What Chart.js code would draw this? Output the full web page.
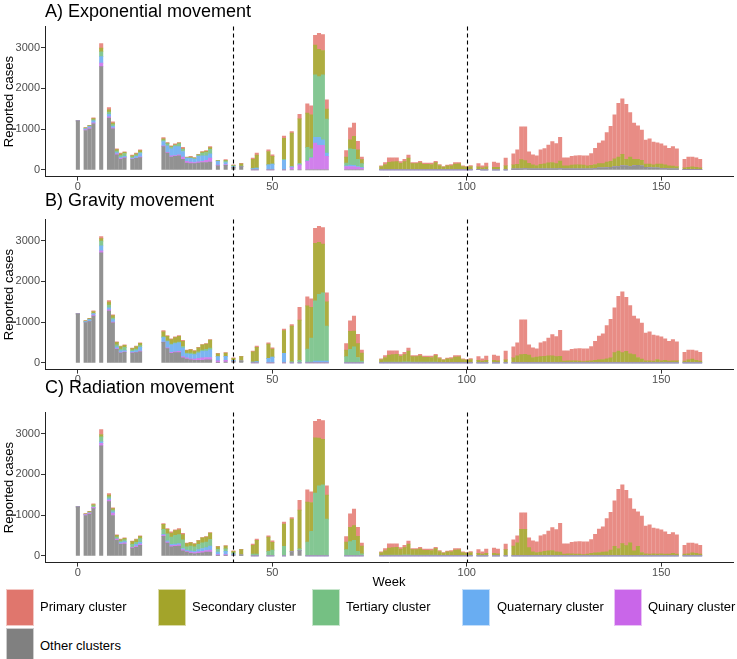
<!DOCTYPE html>
<html>
<head>
<meta charset="utf-8">
<script src="https://cdn.jsdelivr.net/npm/chart.js@4.4.1/dist/chart.umd.min.js"></script>
<style>
html,body{margin:0;padding:0;background:#fff;}
body{width:737px;height:659px;position:relative;overflow:hidden;font-family:"Liberation Sans",Arial,sans-serif;}
canvas.panel{position:absolute;left:0;}
.ptitle{position:absolute;left:45px;font-size:18px;line-height:18px;color:#000;white-space:nowrap;}
.xlab{position:absolute;left:339px;width:100px;text-align:center;top:575px;font-size:13px;line-height:14px;color:#000;}
.sw{position:absolute;width:28px;height:37px;box-sizing:border-box;border:1px solid rgba(255,255,255,0.6);}
.lt{position:absolute;font-size:13px;line-height:14px;color:#000;white-space:nowrap;}
</style>
</head>
<body>
<canvas id="cA" class="panel" width="737" height="200" style="top:0px"></canvas>
<canvas id="cB" class="panel" width="737" height="200" style="top:193px"></canvas>
<canvas id="cC" class="panel" width="737" height="200" style="top:386px"></canvas>
<div class="ptitle" style="top:1.7px">A) Exponential movement</div>
<div class="ptitle" style="top:190.7px">B) Gravity movement</div>
<div class="ptitle" style="top:377.9px">C) Radiation movement</div>
<div class="xlab">Week</div>
<div id="legend"></div>
<script>
// ---- Data ----
const weeks = [0,2,3,4,6,8,9,10,11,12,14,15,16,
  22,23,24,25,26,27,28,29,30,31,32,33,34,
  36,38,40,42,
  45,46,49,50,53,55,57,59,60,61,62,63,64,
  69,70,71,72,73,
  78,79,80,81,82,83,84,85,86,87,88,89,90,91,92,93,94,95,96,97,98,99,100,101,
  103,104,105,107,108,110,
  112,113,114,115,116,117,118,119,120,121,122,123,124,125,126,127,128,129,130,131,132,133,134,135,136,137,138,139,140,141,142,143,144,145,146,147,148,149,150,151,152,153,154,
  156,157,158,159,160];

const xTicks = [0, 50, 100, 150];
const yTicks = [0, 1000, 2000, 3000];
const dashedWeeks = [40, 100];

const seriesNames = ['Primary cluster','Secondary cluster','Tertiary cluster','Quaternary cluster','Quinary cluster','Other clusters'];
const barColors = ['#E88C85','#AEAD40','#84C793','#7AB5F2','#D180EC','#929292'];
const keyColors = ['#E0766D','#A3A42A','#75C083','#69ADF2','#C966E9','#808080'];

// ---- A) Exponential movement ----
const expOther = [1200,965,1000,1130,2535,1270,1005,370,260,290,260,280,300,
  570,410,310,330,345,260,165,150,150,165,180,180,190,
  100,110,60,80,
  0,0,0,0,0,0,0,0,0,0,0,0,0,
  0,0,0,0,0,
  0,0,0,0,0,0, 0,0,0,0,0,0, 0,0,0,0,0,0, 0,0,0,0,0,0,
  10,0,0,0,0,0,
  15,15,20,25,20,15,15,15,15,20,20,20,25,15,15,15,15,15,15,20,20,30,40,40,50,60,70,80,100,90,80,100,110,90,60,50,40,40,30,30,20,20,20,
  10,10,10,10,10];
const expQuinary = [0,20,30,25,85,30,25,20,20,10,10,10,20,
  20,20,35,20,20,50,40,40,30,30,30,50,95,
  15,20,0,0,
  0,0,0,0,0,55,120,205,285,655,600,600,330,
  80,80,80,60,40,
  0,0,0,0,0,0, 0,0,0,0,0,0, 0,0,0,0,0,0, 0,0,0,0,0,0,
  0,0,0,0,0,0,
  0,0,0,0,0,0,0,0,0,0, 0,0,0,0,0,0,0,0,0,0, 0,0,0,0,0,0,0,0,0,0, 0,0,0,0,0,0,0,0,0,0, 0,0,0,
  0,0,0,0,0];
const expQuaternary = [0,20,30,45,160,60,40,30,30,30,20,40,80,
  105,160,170,220,205,140,80,90,80,135,135,115,105,
  90,50,20,0,
  30,40,120,140,230,15,0,15,15,140,195,135,80,
  20,35,30,20,20,
  0,0,0,0,0,0, 0,0,0,0,0,0, 0,0,0,0,0,0, 0,0,0,0,0,0,
  0,0,0,0,0,0,
  0,0,0,0,0,0,0,0,0,0, 0,0,0,0,0,0,0,0,0,0, 0,0,0,0,0,0,0,0,0,0, 0,0,0,0,0,0,0,0,0,0, 0,0,0,
  0,0,0,0,0];
const expTertiary = [0,15,15,30,120,60,40,40,40,70,30,40,30,
  35,50,35,30,70,50,10,15,20,30,65,80,115,
  15,35,20,10,
  0,0,0,0,30,10,40,330,215,1535,1495,1595,835,
  65,400,395,180,90,
  5,10,10,10,10,10,10,10,10,10,10,5,5,5,5,5,5,5,5,5,5,5,5,5,
  0,0,0,0,0,0,
  0,0,0,0,0,0,0,0,0,0, 0,0,0,0,0,0,0,0,0,0, 0,0,0,0,0,0,0,0,0,0, 0,0,0,0,0,0,0,0,0,0, 0,0,0,
  0,0,0,0,0];
const expSecondary = [0,10,10,25,90,50,40,35,40,30,25,25,40,
  30,15,20,15,15,15,5,15,10,10,25,30,40,
  5,20,10,55,
  230,320,330,190,515,820,1090,840,835,735,670,600,245,
  145,220,315,230,100,
  75,120,175,185,190,150,190,280,140,140,160,130,130,125,170,100,60,90,95,135,140,75,60,75,
  60,50,70,60,60,100,
  110,120,230,200,140,110,90,120,130,150,160,130,190,80,80,100,110,110,100,80,90,100,110,110,140,150,200,230,280,170,230,160,150,140,80,90,80,100,110,90,80,70,60,
  40,50,60,50,40];
const expPrimary = [0,10,10,20,110,60,30,20,20,10,15,15,20,
  30,15,20,25,15,35,10,20,10,10,15,15,25,
  5,15,10,15,
  30,50,40,40,55,40,115,230,220,235,390,390,230,
  160,295,325,210,60,
  20,50,110,100,95,40,60,70,30,30,40,30,30,35,35,25,15,20,30,40,35,20,15,25,
  80,50,95,130,105,190,
  265,355,805,830,280,245,240,355,375,435,515,495,580,200,200,215,220,225,230,245,290,400,505,560,725,860,1080,1325,1360,1350,1095,885,820,745,590,620,560,520,500,470,425,480,435,
  210,250,240,235,210];

// ---- B) Gravity movement ----
const gravOther = [1200,990,1010,1150,2700,1270,980,330,240,260,240,250,270,
  500,350,230,250,250,120,90,70,60,60,60,70,70,
  10,20,30,40,
  0,0,0,0,0,0,0,0,0,0,0,0,0,
  0,0,0,0,0,
  0,0,0,0,0,0, 0,0,0,0,0,0, 0,0,0,0,0,0, 0,0,0,0,0,0,
  0,0,0,0,0,0,
  0,0,0,0,0,0,0,0,0,0, 0,0,0,0,0,0,0,0,0,0, 0,0,0,0,0,0,0,0,0,0, 0,0,0,0,0,0,0,0,0,0, 0,0,0,
  0,0,0,0,0];
const gravQuinary = [0,0,0,20,50,30,20,20,10,10,10,10,20,
  10,20,30,20,30,30,30,30,30,50,60,60,60,
  40,40,0,0,
  0,0,0,0,0,0,0,0,0,0,0,0,0,
  0,0,0,0,0,
  0,0,0,0,0,0, 0,0,0,0,0,0, 0,0,0,0,0,0, 0,0,0,0,0,0,
  0,0,0,0,0,0,
  0,0,0,0,0,0,0,0,0,0, 0,0,0,0,0,0,0,0,0,0, 0,0,0,0,0,0,0,0,0,0, 0,0,0,0,0,0,0,0,0,0, 0,0,0,
  0,0,0,0,0];
const gravQuaternary = [0,20,50,40,120,50,60,40,50,30,30,40,90,
  110,150,180,200,210,220,100,110,110,130,160,160,190,
  100,100,30,0,
  20,30,110,140,230,0,0,15,15,40,40,40,40,
  0,0,0,0,0,
  0,0,0,0,0,0, 0,0,0,0,0,0, 0,0,0,0,0,0, 0,0,0,0,0,0,
  0,0,0,0,0,0,
  0,0,0,0,0,0,0,0,0,0, 0,0,0,0,0,0,0,0,0,0, 0,0,0,0,0,0,0,0,0,0, 0,0,0,0,0,0,0,0,0,0, 0,0,0,
  0,0,0,0,0];
const gravTertiary = [0,0,0,0,120,70,40,50,40,80,30,40,40,
  20,20,20,20,20,30,20,30,20,30,30,40,40,
  0,0,0,0,
  0,0,0,0,0,30,60,320,595,1485,1640,1680,860,
  150,330,390,130,40,
  10,15,20,20,20,20,25,25,20,20,20,15,15,15,15,10,10,10,10,10,10,10,5,5,
  0,0,0,0,0,0,
  0,0,0,0,0,0,0,0,0,0, 0,0,0,0,0,0,0,0,0,0, 0,0,0,0,0,0,0,0,0,0, 0,0,0,0,0,0,0,0,0,0, 0,0,0,
  0,0,0,0,0];
const gravSecondary = [0,20,25,50,60,70,60,60,60,50,40,60,60,
  120,110,110,130,140,130,60,80,70,100,130,130,200,
  70,80,50,110,
  250,350,350,200,560,870,990,1065,750,1410,1280,1193,600,
  160,440,390,340,200,
  70,115,170,180,185,140,175,265,130,130,150,120,120,115,160,95,55,85,90,130,135,70,60,75,
  60,40,60,60,50,70,
  120,170,200,210,190,130,140,150,160,170,170,150,160,40,50,50,50,40,30,40,50,60,70,80,100,120,250,290,250,280,220,200,130,90,50,50,40,80,50,60,40,50,50,
  40,70,90,60,40];
const gravPrimary = [0,10,10,15,50,40,20,15,10,10,10,10,10,
  30,20,20,20,20,20,10,10,10,10,10,10,10,
  10,10,10,10,
  20,30,30,30,40,40,315,220,210,365,390,407,220,
  160,260,365,230,70,
  20,50,105,95,90,40,60,70,30,30,40,30,30,35,35,25,15,20,30,40,35,20,15,25,
  90,60,105,130,115,220,
  270,320,855,845,250,240,205,340,360,435,525,495,635,255,245,280,295,310,315,305,350,470,585,630,815,950,1100,1345,1490,1330,1185,945,950,885,680,710,640,580,590,530,485,520,465,
  220,240,220,235,220];

// ---- C) Radiation movement ----
const radOther = [1200,990,1020,1160,2700,1330,990,380,280,290,190,210,260,
  480,310,220,230,240,120,90,60,50,60,70,90,90,
  10,10,20,20,
  0,0,0,0,0,100,130,0,0,0,0,0,0,
  0,0,0,0,0,
  0,0,0,0,0,0, 0,0,0,0,0,0, 0,0,0,0,0,0, 0,0,0,0,0,0,
  0,0,0,0,0,0,
  0,0,0,0,0,0,0,0,0,0, 0,0,0,0,0,0,0,0,0,0, 0,0,0,0,0,0,0,0,0,0, 0,0,0,0,0,0,0,0,0,0, 0,0,0,
  0,0,0,0,0];
const radQuinary = [0,20,30,30,60,40,60,30,20,30,20,30,30,
  30,30,30,30,30,30,20,30,30,40,40,40,50,
  20,20,0,0,
  0,0,0,0,0,0,0,0,0,0,0,0,0,
  0,0,0,0,0,
  0,0,0,0,0,0, 0,0,0,0,0,0, 0,0,0,0,0,0, 0,0,0,0,0,0,
  0,0,0,0,0,0,
  0,0,0,0,0,0,0,0,0,0, 0,0,0,0,0,0,0,0,0,0, 0,0,0,0,0,0,0,0,0,0, 0,0,0,0,0,0,0,0,0,0, 0,0,0,
  0,0,0,0,0];
const radQuaternary = [0,0,0,0,40,30,30,0,30,30,0,40,40,
  20,30,30,30,30,30,30,30,30,50,70,70,100,
  60,80,20,0,
  0,0,0,0,0,0,0,0,0,0,0,0,0,
  0,0,0,0,0,
  0,0,0,0,0,0, 0,0,0,0,0,0, 0,0,0,0,0,0, 0,0,0,0,0,0,
  0,0,0,0,0,0,
  0,0,0,0,0,0,0,0,0,0, 0,0,0,0,0,0,0,0,0,0, 0,0,0,0,0,0,0,0,0,0, 0,0,0,0,0,0,0,0,0,0, 0,0,0,
  0,0,0,0,0];
const radTertiary = [0,10,20,40,120,50,40,50,30,40,70,50,90,
  120,170,180,210,220,210,80,120,110,130,140,140,160,
  70,60,30,0,
  40,40,110,140,230,0,40,340,600,1540,1720,1740,900,
  150,350,380,110,50,
  10,15,20,20,20,20,25,25,20,20,20,15,15,15,15,10,10,10,10,10,10,10,5,5,
  0,0,0,0,0,0,
  0,0,0,0,0,0,0,0,0,0, 0,0,0,0,0,0,0,0,0,0, 0,0,0,0,0,0,0,0,0,0, 0,0,0,0,0,0,0,0,0,0, 0,0,0,
  0,0,0,0,0];
const radSecondary = [0,10,15,30,60,40,40,40,40,40,70,70,60,
  120,110,100,120,120,130,80,80,70,90,120,120,160,
  60,70,40,130,
  220,340,350,190,550,800,950,980,710,1360,1170,1120,590,
  190,350,360,370,190,
  70,115,170,180,185,140,175,265,130,130,150,120,120,115,160,95,55,85,90,130,135,70,60,75,
  60,40,60,60,50,150,
  240,320,650,650,200,100,80,90,110,120,130,100,90,40,50,50,40,40,30,40,60,70,80,90,100,140,230,180,300,250,320,120,230,80,50,40,50,40,50,40,40,60,40,
  40,50,70,60,40];
const radPrimary = [0,10,10,15,120,40,20,15,10,10,10,10,10,
  20,20,30,20,30,30,10,10,10,10,10,10,10,
  10,10,10,10,
  30,30,30,40,50,40,245,300,260,400,460,460,230,
  130,330,405,220,70,
  20,50,105,95,90,40,60,70,30,30,40,30,30,35,35,25,15,20,30,40,35,20,15,25,
  90,60,105,130,115,140,
  150,170,405,405,240,270,265,400,410,485,565,545,705,255,245,280,305,310,315,305,340,460,575,620,815,930,1120,1455,1440,1360,1085,1025,850,895,680,720,630,620,590,550,485,510,475,
  220,260,240,235,220];

// ---- Build charts ----
Chart.defaults.font.family = '"Liberation Sans", Arial, sans-serif';

const panels = [
  {id:'cA', series:[expPrimary,expSecondary,expTertiary,expQuaternary,expQuinary,expOther]},
  {id:'cB', series:[gravPrimary,gravSecondary,gravTertiary,gravQuaternary,gravQuinary,gravOther]},
  {id:'cC', series:[radPrimary,radSecondary,radTertiary,radQuaternary,radQuinary,radOther]}
];

panels.forEach(p => p.series.forEach((s, k) => {
  if (s.length !== weeks.length) throw new Error(p.id + ' series ' + k + ' length ' + s.length + ' != ' + weeks.length);
}));

const dashedLines = {
  id: 'dashedLines',
  afterDatasetsDraw(chart) {
    const {ctx, chartArea, scales} = chart;
    ctx.save();
    ctx.strokeStyle = '#000';
    ctx.lineWidth = 1.1;
    ctx.setLineDash([4, 3]);
    dashedWeeks.forEach(w => {
      const px = Math.round(scales.x.getPixelForValue(w)) + 0.5;
      ctx.beginPath();
      ctx.moveTo(px, chartArea.top);
      ctx.lineTo(px, chartArea.bottom);
      ctx.stroke();
    });
    ctx.restore();
  }
};

panels.forEach(p => {
  // stack order: Other at bottom ... Primary on top
  const order = [5,4,3,2,1,0];
  const datasets = order.map(k => ({
    label: seriesNames[k],
    data: weeks.map((w, i) => ({x: w, y: p.series[k][i]})),
    backgroundColor: barColors[k],
    borderWidth: 0,
    barThickness: 3.4
  }));
  new Chart(document.getElementById(p.id), {
    type: 'bar',
    data: {datasets},
    options: {
      responsive: false,
      animation: false,
      events: [],
      layout: {padding: {top: 26.6, right: 4, left: 0, bottom: 0}},
      plugins: {legend: {display: false}, tooltip: {enabled: false}, title: {display: false}},
      scales: {
        x: {
          type: 'linear', min: -8.45, max: 168.45, stacked: true, offset: false,
          afterBuildTicks: s => { s.ticks = xTicks.map(v => ({value: v})); },
          afterFit: s => { s.height = 23.4; },
          grid: {display: true, drawOnChartArea: false, drawTicks: true, tickLength: 4, color: '#333', offset: false},
          border: {display: true, color: '#222', width: 1},
          ticks: {color: '#4D4D4D', font: {size: 11}, padding: 0, maxRotation: 0, autoSkip: false, callback: v => String(v)}
        },
        y: {
          min: -167, max: 3517, stacked: true,
          afterBuildTicks: s => { s.ticks = yTicks.map(v => ({value: v})); },
          afterFit: s => { s.width = 45; },
          grid: {display: true, drawOnChartArea: false, drawTicks: true, tickLength: 4, color: '#333'},
          border: {display: true, color: '#222', width: 1},
          ticks: {color: '#4D4D4D', font: {size: 11}, padding: 1, callback: v => String(v)},
          title: {display: true, text: 'Reported cases', color: '#000', font: {size: 13}, padding: {top: 2, bottom: 0}}
        }
      }
    },
    plugins: [dashedLines]
  });
});

// ---- Legend (HTML) ----
const legendPos = [
  {sx: 6, tx: 40, top: 589},
  {sx: 158, tx: 192, top: 589},
  {sx: 312, tx: 346, top: 589},
  {sx: 462, tx: 497, top: 589},
  {sx: 614, tx: 648, top: 589},
  {sx: 6, tx: 40, top: 628}
];
const leg = document.getElementById('legend');
seriesNames.forEach((name, k) => {
  const pos = legendPos[k];
  const sw = document.createElement('div');
  sw.className = 'sw';
  sw.style.left = pos.sx + 'px';
  sw.style.top = pos.top + 'px';
  sw.style.background = keyColors[k];
  leg.appendChild(sw);
  const t = document.createElement('div');
  t.className = 'lt';
  t.style.left = pos.tx + 'px';
  t.style.top = (pos.top + 11) + 'px';
  t.textContent = name;
  leg.appendChild(t);
});
</script>
</body>
</html>
